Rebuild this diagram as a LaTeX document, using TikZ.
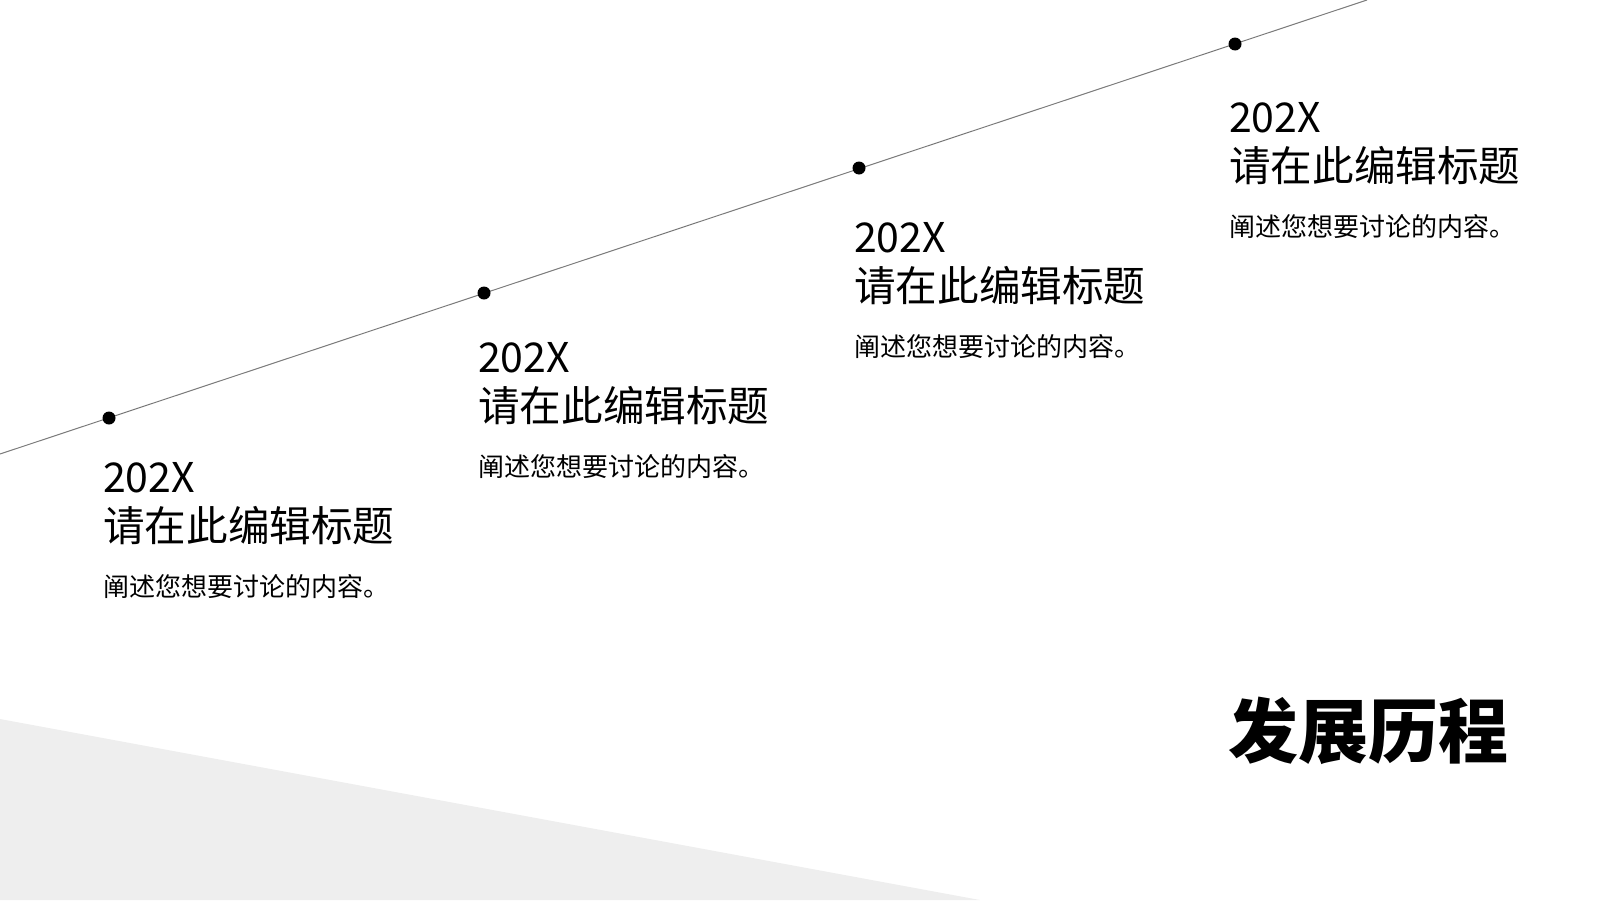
\documentclass[tikz,border=0pt]{standalone}
\usepackage{fontspec}
\setmainfont{Noto Sans CJK SC}
\definecolor{pathgray}{HTML}{7A7A7A}
\definecolor{shadegray}{HTML}{EEEEEE}
\tikzset{
 dot/.style={circle,fill=black,inner sep=0pt,minimum size=13pt},
 year/.style={anchor=base west,inner sep=0pt,font=\fontsize{41}{41}\selectfont},
 headline/.style={anchor=base west,inner sep=0pt,font=\fontsize{41.6}{41.6}\selectfont},
 note/.style={anchor=base west,inner sep=0pt,font=\fontsize{26}{26}\selectfont},
}

\begin{document}
\begin{tikzpicture}[x=1pt,y=-1pt]
 \useasboundingbox (0,0) rectangle (1600,900);
 \fill[shadegray](0,719)--(980,900)--(0,900)--cycle;
 \coordinate (start) at (0,454);
 \coordinate (end) at (1367,0);
 \draw[pathgray,line width=1pt](start)--(end);
 \node[dot] (d1) at (109,418) {};
 \node[dot] (d2) at (484,293) {};
 \node[dot] (d3) at (859,168) {};
 \node[dot] (d4) at (1235,44) {};
 \node[year] (y1) at (103,492) {202X};
 \node[headline] (t1) at (103,541) {请在此编辑标题};
 \node[note] (n1) at (103,596) {阐述您想要讨论的内容。};
 \node[year] (y2) at (478,372) {202X};
 \node[headline] (t2) at (478,421) {请在此编辑标题};
 \node[note] (n2) at (478,476) {阐述您想要讨论的内容。};
 \node[year] (y3) at (854,252) {202X};
 \node[headline] (t3) at (854,301) {请在此编辑标题};
 \node[note] (n3) at (854,356) {阐述您想要讨论的内容。};
 \node[year] (y4) at (1229,132) {202X};
 \node[headline] (t4) at (1229,181) {请在此编辑标题};
 \node[note] (n4) at (1229,236) {阐述您想要讨论的内容。};
 \node[anchor=base west,inner sep=0pt,font=\fontsize{70}{70}\selectfont\bfseries] (heading) at (1228,757) {发展历程};
\end{tikzpicture}
\end{document}
